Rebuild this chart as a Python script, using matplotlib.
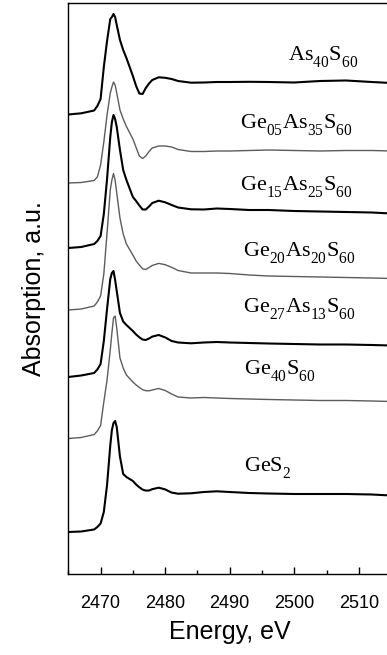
import matplotlib
matplotlib.use("Agg")
import matplotlib.pyplot as plt
from matplotlib.ticker import MultipleLocator

try:  # lower the subscripts a bit, as in the reference labels
    import matplotlib._mathtext as _mt
    _mt.FontConstantsBase.sub1 = 0.75
    _mt.FontConstantsBase.subdrop = 0.75
except Exception:
    pass

# ---- data (y in arbitrary units, stacked) ----
energy = [2465, 2467, 2469, 2469.5, 2470, 2470.5, 2471, 2471.5, 2471.75, 2472,
          2472.25, 2472.5, 2473, 2473.5, 2474, 2475, 2475.5, 2476, 2476.5, 2477,
          2477.5, 2478, 2479, 2480, 2481, 2482, 2484, 2486, 2488, 2490,
          2493, 2496, 2500, 2504, 2508, 2512, 2515]

as40s60 = [459.5, 460.7, 463.5, 468, 475, 507, 533, 555, 557, 560,
           557, 549, 534, 524, 516, 498, 488, 480.5, 480, 486,
           490.5, 494, 496.7, 496.2, 495, 493, 491.3, 491.5, 492, 492,
           492.2, 492, 491.5, 493, 493.5, 492, 491]
ge05as35s60 = [391, 391.5, 393.5, 397, 409, 432, 459, 481, 487, 492,
               489, 481, 464, 455, 447.5, 435, 426.5, 418, 415.5, 418,
               422.5, 426, 428, 428, 427, 424.5, 422.5, 422.5, 423, 423,
               423.5, 424, 423.5, 423, 423.5, 423.5, 423]
ge15as25s60 = [326, 327, 330, 333, 338, 360, 395, 437, 452, 459,
               455, 447, 424, 404, 394, 377, 373, 368.5, 364.5, 364.5,
               367.5, 371, 373.3, 371.7, 369, 366.5, 364.7, 364.5, 365.5, 365,
               364, 364, 363, 362.5, 362, 361.5, 360.5]
ge20as20s60 = [264, 265, 268, 272, 278, 300, 341, 384, 394, 400.5,
               394, 381, 356, 340, 330, 319, 313, 309, 305.2, 304.5,
               306.5, 308.5, 310.6, 309.3, 306.7, 303.5, 301, 301, 301, 300.5,
               299, 298, 297.5, 297, 296.5, 296, 295.5]
ge27as13s60 = [197, 198.5, 201, 204.5, 210, 233, 265, 295, 301, 303,
               294, 283, 261, 252.5, 249, 243, 239.5, 236.7, 234.5, 234,
               235.5, 237.4, 239, 236.6, 233, 231.5, 230.7, 231.5, 232, 231.5,
               231, 230.5, 230, 229.5, 229.5, 229, 228.5]
ge40s60 = [135.5, 136.5, 139.5, 143, 148.5, 172, 194, 224, 241, 256,
           258, 246, 216, 206, 199, 192, 189, 186.5, 184.3, 183.3,
           183.2, 184, 185.5, 183.5, 180, 177, 176, 176.5, 176, 175.5,
           175, 174.5, 174, 173.5, 173.5, 173, 172.5]
ges2 = [42, 42.5, 44.5, 47, 50.5, 62, 89, 128.5, 144, 151,
        153, 147, 117.3, 100, 97, 93, 89.5, 86.7, 84.4, 83.4,
        83.5, 84.8, 86.3, 84.6, 81.4, 80.3, 80.7, 82, 82.7, 82,
        81, 80.5, 80, 80, 80, 79.5, 78.5]

series = [as40s60, ge05as35s60, ge15as25s60, ge20as20s60, ge27as13s60, ge40s60, ges2]
labels = [r'$\mathrm{As}_{40}\mathrm{S}_{60}$',
          r'$\mathrm{Ge}_{05}\mathrm{As}_{35}\mathrm{S}_{60}$',
          r'$\mathrm{Ge}_{15}\mathrm{As}_{25}\mathrm{S}_{60}$',
          r'$\mathrm{Ge}_{20}\mathrm{As}_{20}\mathrm{S}_{60}$',
          r'$\mathrm{Ge}_{27}\mathrm{As}_{13}\mathrm{S}_{60}$',
          r'$\mathrm{Ge}_{40}\mathrm{S}_{60}$',
          r'$\mathrm{GeS}_{2}$']
label_x = [2499.0, 2491.6, 2491.6, 2492.0, 2492.0, 2492.2, 2492.2]
label_y = [514, 445.7, 384, 317.3, 261.5, 199.7, 102.3]
colors = ['#000000', '#5c5c5c', '#000000', '#5c5c5c', '#000000', '#5c5c5c', '#000000']
widths = [1.5, 1.0, 1.5, 1.0, 1.5, 1.0, 1.5]

xticks = [2470, 2480, 2490, 2500, 2510]

# ---- style ----
plt.rcParams['font.family'] = ['Liberation Sans', 'DejaVu Sans']
plt.rcParams['mathtext.fontset'] = 'custom'
plt.rcParams['mathtext.rm'] = 'Liberation Serif'
plt.rcParams['mathtext.it'] = 'Liberation Serif:italic'
plt.rcParams['mathtext.bf'] = 'Liberation Serif:bold'

W, H = 387, 655
fig = plt.figure(figsize=(W / 100, H / 100), dpi=100)
ax = fig.add_axes([68.3 / W, (H - 574) / H, (391.2 - 68.3) / W, 571 / H])

for y, c, lw in zip(series, colors, widths):
    ax.plot(energy, y, color=c, lw=lw, solid_joinstyle='round')

for t, lx, ly in zip(labels, label_x, label_y):
    ax.text(lx, ly, t, fontsize=16, ha='left', va='baseline')

ax.set_xlim(2465, 2515)
ax.set_ylim(0, 571)
ax.set_xticks(xticks)
ax.xaxis.set_minor_locator(MultipleLocator(5))
ax.set_yticks([])
ax.tick_params(axis='x', which='major', direction='in', length=5, width=1,
               labelsize=13, pad=15)
ax.tick_params(axis='x', which='minor', direction='in', length=3, width=1)
for s in ax.spines.values():
    s.set_linewidth(1.0)
    s.set_color('black')

ax.set_xlabel('Energy, eV', fontsize=18, labelpad=6)
ax.set_ylabel('Absorption, a.u.', fontsize=18, labelpad=16)

fig.savefig('out.png', dpi=100)
